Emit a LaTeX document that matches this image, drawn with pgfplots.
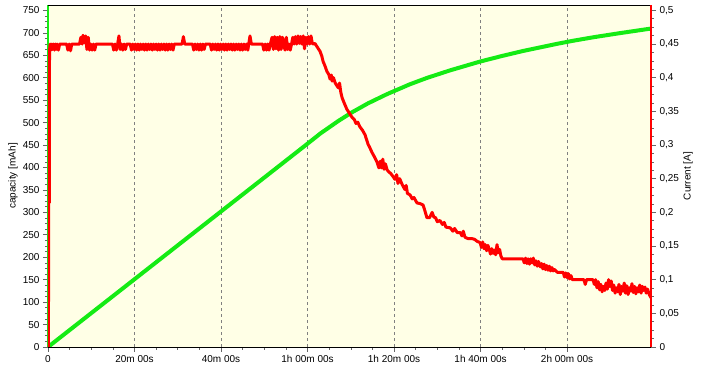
\documentclass[border=0pt]{standalone}
\usepackage{fontspec}
\setmainfont{Liberation Sans}
\usepackage{pgfplots}
\pgfplotsset{compat=1.18}
\definecolor{bgc}{RGB}{255,255,230}
\definecolor{lineg}{RGB}{20,235,20}
\definecolor{liner}{RGB}{255,0,0}
\begin{document}
\begin{tikzpicture}
\pgfplotsset{
  every axis/.append style={
    scale only axis, width=603pt, height=342pt,
    xmin=0, xmax=139.4,
    tick align=outside,
    major tick length=5pt, minor tick length=3pt,
    tick style={black!60, line width=0.6pt},
    tick label style={font=\fontsize{10}{12}\selectfont},
    label style={font=\fontsize{10}{12}\selectfont},
    /pgf/number format/assume math mode=true,
  }
}
\begin{axis}[name=ax1,
  ymin=0, ymax=762,
  axis background/.style={fill=bgc},
  axis x line*=bottom, axis y line*=left,
  x axis line style={-, black, line width=0.8pt},
  y axis line style={-, draw=lineg, line width=2pt},
  xtick={0,20,40,60,80,100,120},
  xticklabels={0,20m 00s,40m 00s,1h 00m 00s,1h 20m 00s,1h 40m 00s,2h 00m 00s},
  minor x tick num=3,
  ytick={0,50,...,750},
  minor y tick num=3,
  xmajorgrids,
  major x grid style={gray, line width=0.8pt, dash pattern=on 3pt off 3pt},
  ylabel={capacity [mAh]},
  ylabel style={at={(rel axis cs:0,0.5)}, anchor=center, rotate=0, yshift=35pt},
]
\addplot[lineg, line width=4pt, line join=round] coordinates {
(0,0) (10,75.5) (20,151) (30,226.5) (40,302) (50,377.5) (60,453) (61.7,466)
(63,476) (64.5,486) (67.1,503.5) (70.3,523) (74,543) (78.4,563.5) (83.7,585.5)
(87.6,599.5) (93,616.5) (99.9,636) (105,648.5) (109.8,659.5) (117.7,675.5)
(121.2,682) (126,690) (132,699) (139.4,709.5)
};
\end{axis}
\begin{axis}[
  ymin=0, ymax=0.508,
  axis x line*=top, axis y line*=right,
  x axis line style={-, black, line width=0.8pt},
  y axis line style={-, draw=liner, line width=2pt},
  xtick=\empty,
  ytick={0,0.05,0.1,0.15,0.2,0.25,0.3,0.35,0.4,0.45,0.5},
  minor y tick num=3,
  scaled y ticks=false,
  yticklabel style={/pgf/number format/.cd, fixed, precision=2, use comma},
  ylabel={Current [A]},
  ylabel style={at={(rel axis cs:1,0.5)}, anchor=center, yshift=-37pt},
]
\addplot[liner, line width=3pt, line join=round] coordinates {
(0.1,0) (0.15,0.214) (0.30,0.214) (0.35,0.440)
(0.5,0.450) (0.7,0.441) (0.9,0.450) (1.1,0.442) (1.3,0.450) (1.5,0.441) (1.7,0.450) (1.9,0.442) (2.1,0.450) (2.4,0.441) (2.7,0.450)
(4.3,0.450) (4.6,0.441) (4.9,0.450) (5.2,0.440) (5.5,0.450) (5.8,0.450)
(7.3,0.450) (7.6,0.460) (7.9,0.450) (8.1,0.463) (8.4,0.452) (8.7,0.462) (9.0,0.442) (9.3,0.460) (9.6,0.441) (9.9,0.450) (10.2,0.441) (10.5,0.450) (10.8,0.441) (11.1,0.450) (11.4,0.450)
(14.9,0.450) (15.2,0.441) (15.5,0.450) (15.8,0.441) (16.1,0.450) (16.4,0.462) (16.7,0.442) (17.0,0.450) (17.3,0.441) (17.6,0.450) (17.9,0.442) (18.2,0.450)
(19.0,0.450) (19.3,0.441) (19.6,0.450) (19.9,0.442) (20.2,0.450) (20.5,0.441) (20.8,0.450) (21.1,0.441) (21.4,0.450) (21.7,0.442) (22.0,0.450) (22.3,0.441) (22.6,0.450) (22.9,0.441) (23.2,0.450) (23.5,0.442) (23.8,0.450) (24.1,0.441) (24.4,0.450) (24.7,0.442) (25.0,0.450) (25.3,0.441) (25.6,0.450) (25.9,0.441) (26.2,0.450) (26.5,0.442) (26.8,0.450) (27.1,0.441) (27.4,0.450) (27.7,0.441) (28.0,0.450) (28.3,0.442) (28.6,0.450) (28.9,0.441) (29.2,0.450)
(31.0,0.450) (31.3,0.461) (31.6,0.450)
(33.4,0.450) (33.7,0.441) (34.0,0.450) (34.3,0.442) (34.6,0.450) (34.9,0.441) (35.2,0.450) (35.5,0.441) (35.8,0.450) (36.1,0.442) (36.4,0.450)
(37.5,0.450) (37.8,0.441) (38.1,0.450) (38.4,0.442) (38.7,0.450) (39.0,0.441) (39.3,0.450) (39.6,0.441) (39.9,0.450) (40.2,0.442) (40.5,0.450) (40.8,0.441) (41.1,0.450) (41.4,0.441) (41.7,0.450) (42.0,0.442) (42.3,0.450) (42.6,0.441) (42.9,0.450) (43.2,0.441) (43.5,0.450) (43.8,0.442) (44.1,0.450) (44.4,0.441) (44.7,0.450) (45.0,0.441) (45.3,0.450) (45.6,0.442) (45.9,0.450) (46.2,0.441) (46.4,0.450)
(46.7,0.462) (47.0,0.450)
(49.6,0.450) (49.9,0.441) (50.2,0.450) (50.5,0.441) (50.8,0.450) (51.1,0.441) (51.4,0.450)
(51.8,0.460) (52.1,0.442) (52.4,0.461) (52.7,0.443) (53.0,0.460) (53.3,0.441) (53.6,0.461) (53.9,0.442) (54.2,0.460) (54.5,0.450) (54.8,0.441) (55.1,0.460) (55.4,0.442) (55.7,0.450) (56.0,0.441) (56.3,0.450) (56.6,0.460) (56.9,0.450)
(57.2,0.461) (57.5,0.450) (57.8,0.462) (58.1,0.451) (58.4,0.461) (58.7,0.450) (59.0,0.462) (59.3,0.443) (59.6,0.460) (59.9,0.450) (60.2,0.461) (60.5,0.450) (60.8,0.462) (61.1,0.451) (61.4,0.450) (61.7,0.451)
(62.3,0.445) (62.9,0.439) (63.3,0.432) (63.6,0.424) (64.0,0.418) (64.5,0.409) (64.9,0.405) (65.2,0.398) (65.5,0.404) (65.7,0.395) (66.0,0.400) (66.4,0.392) (67.1,0.385) (67.4,0.392) (67.7,0.378) (68.0,0.370) (68.5,0.362) (69.1,0.353) (69.6,0.348) (70.3,0.341) (70.8,0.338) (71.2,0.332) (71.6,0.334) (72.1,0.327) (72.7,0.322) (73.3,0.315) (74.0,0.301) (74.4,0.296) (74.9,0.289) (75.5,0.282) (76.1,0.274) (76.5,0.266) (76.8,0.276) (77.1,0.266) (77.4,0.279) (77.7,0.264) (78.0,0.272) (78.4,0.263) (78.8,0.260) (79.2,0.258) (79.8,0.253) (80.2,0.249) (80.6,0.256) (80.9,0.243) (81.3,0.250) (81.9,0.241) (82.5,0.234) (82.8,0.240) (83.1,0.228) (83.7,0.226) (84.2,0.220) (84.6,0.222) (85.3,0.214) (86.0,0.213) (86.7,0.211) (87.1,0.203) (87.6,0.192) (88.2,0.192) (88.8,0.200) (89.2,0.193) (89.6,0.192) (90.0,0.186) (90.6,0.188) (91.2,0.182) (91.6,0.185) (92.0,0.178) (93.0,0.177) (93.6,0.172) (94.0,0.176) (94.6,0.170)
(95.3,0.170) (95.7,0.165) (96.0,0.172) (96.4,0.163) (97.1,0.161) (98.0,0.161) (98.6,0.160) (99.2,0.157) (99.9,0.155)
(100.2,0.148) (100.5,0.156) (100.8,0.146) (101.1,0.152) (101.4,0.143) (101.7,0.151) (102.0,0.145) (102.3,0.138) (102.6,0.146) (102.9,0.139) (103.2,0.144) (103.5,0.137) (103.8,0.152) (104.1,0.140) (104.4,0.145) (104.7,0.135) (105.0,0.131)
(109.8,0.131)
(110.1,0.125) (110.4,0.132) (110.7,0.124) (111.0,0.131) (111.3,0.123) (111.6,0.131) (111.9,0.125) (112.2,0.132) (112.5,0.122) (112.8,0.128) (113.1,0.120) (113.4,0.127) (113.8,0.119)
(114.1,0.124) (114.4,0.116) (114.7,0.123) (115.0,0.115) (115.3,0.121) (115.6,0.114) (115.9,0.120) (116.2,0.113) (116.5,0.118) (116.8,0.113) (117.1,0.115) (117.7,0.111)
(119.1,0.111)
(119.4,0.104) (119.7,0.110) (120.0,0.103) (120.3,0.109) (120.6,0.101) (120.9,0.106) (121.2,0.100)
(123.9,0.100) (124.2,0.093) (124.5,0.100) (126.0,0.100)
(126.3,0.093) (126.6,0.100) (126.9,0.088) (127.2,0.097) (127.5,0.085) (127.8,0.093) (128.1,0.082) (128.4,0.090) (128.7,0.084) (129.0,0.095) (129.3,0.086) (129.6,0.100) (129.9,0.090) (130.2,0.098) (130.5,0.084) (130.8,0.092) (131.1,0.080) (131.4,0.088) (131.7,0.082) (132.0,0.093) (132.3,0.078) (132.6,0.090) (132.9,0.083) (133.2,0.095) (133.5,0.080) (133.8,0.091) (134.1,0.078) (134.4,0.088) (134.7,0.083) (135.0,0.094) (135.3,0.081) (135.6,0.090) (135.9,0.079) (136.2,0.088) (136.5,0.082) (136.8,0.092) (137.1,0.080) (137.4,0.090) (137.7,0.084) (138.0,0.089) (138.3,0.080) (138.6,0.086) (139.0,0.078) (139.4,0.073)
};
\end{axis}
\path ([xshift=-48pt,yshift=-25pt]ax1.south west) rectangle ([xshift=50pt,yshift=5pt]ax1.north east);
\end{tikzpicture}
\end{document}
